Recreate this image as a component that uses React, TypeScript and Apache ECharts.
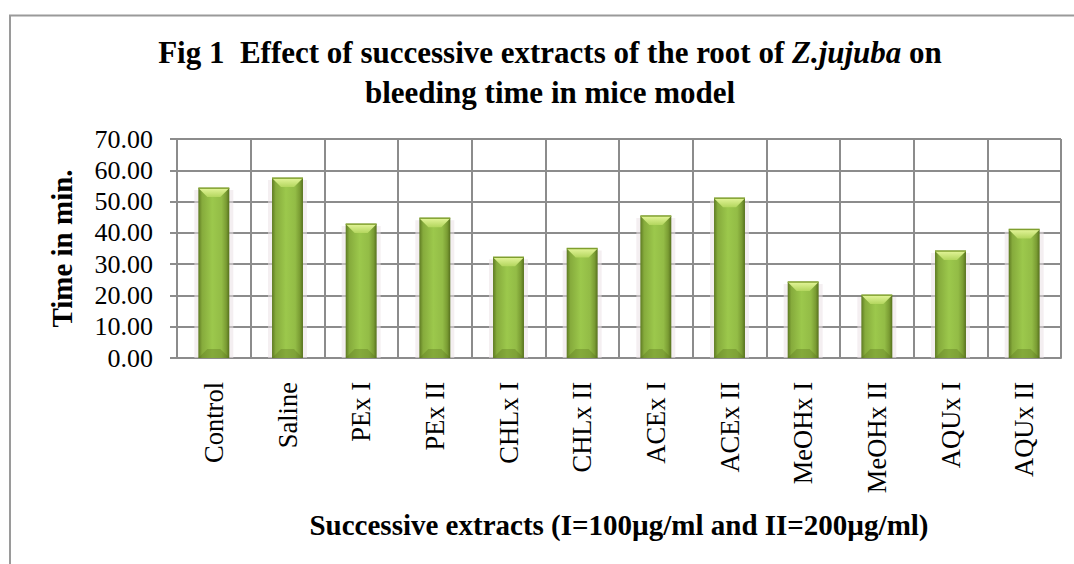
import React, { useEffect, useRef } from "react";
import * as echarts from "echarts";

const categories = ["Control", "Saline", "PEx I", "PEx II", "CHLx I", "CHLx II", "ACEx I", "ACEx II", "MeOHx I", "MeOHx II", "AQUx I", "AQUx II"];
const values = [54.3, 57.5, 42.8, 44.7, 32.2, 35.0, 45.4, 51.1, 24.3, 20.1, 34.2, 41.1];
const yTicks = { min: 0, max: 70, interval: 10 };
const titleLine1 = "Fig 1  Effect of successive extracts of the root of ";
const titleItalic = "Z.jujuba";
const titleLine1End = " on";
const titleLine2 = "bleeding time in mice model";
const yName = "Time in min.";
const xName = "Successive extracts (I=100µg/ml and II=200µg/ml)";

const SERIF = "'Liberation Serif', 'Times New Roman', serif";

export default function App() {
  const ref = useRef<HTMLDivElement>(null);
  useEffect(() => {
    const chart = echarts.init(ref.current!, null, { renderer: "svg" });
    const barGrad = new echarts.graphic.LinearGradient(0, 0, 1, 0, [
      { offset: 0, color: "#5e7a22" },
      { offset: 0.12, color: "#86ab3c" },
      { offset: 0.45, color: "#9cc84c" },
      { offset: 0.75, color: "#93bc46" },
      { offset: 0.9, color: "#7a9c33" },
      { offset: 1, color: "#56701d" },
    ]);
    chart.setOption({
      animation: false,
      graphic: [
        {
          type: "rect",
          shape: { x: 10, y: 15.5, width: 1200, height: 700 },
          style: { fill: "none", stroke: "#9a9a9a", lineWidth: 2 },
          silent: true,
        },
        {
          type: "text",
          x: 550,
          y: 32,
          style: {
            text: `{n|${titleLine1}}{i|${titleItalic}}{n|${titleLine1End}}\n{n|${titleLine2}}`,
            align: "center",
            verticalAlign: "top",
            rich: {
              n: { fontFamily: SERIF, fontWeight: "bold", fontSize: 31, lineHeight: 40, fill: "#000" },
              i: { fontFamily: SERIF, fontWeight: "bold", fontStyle: "italic", fontSize: 31, lineHeight: 40, fill: "#000" },
            },
          },
        },
      ],
      grid: { left: 177, right: 13, top: 139, bottom: 206, containLabel: false },
      xAxis: {
        type: "category",
        data: categories,
        name: xName,
        nameLocation: "middle",
        nameGap: 152,
        nameTextStyle: { fontFamily: SERIF, fontWeight: "bold", fontSize: 29, color: "#000" },
        axisLine: { show: true, lineStyle: { color: "#8c8c8c", width: 2 } },
        axisTick: { show: false },
        splitLine: { show: true, lineStyle: { color: "#8c8c8c", width: 2 } },
        axisLabel: { rotate: 90, interval: 0, margin: 24, fontFamily: SERIF, fontSize: 26.5, color: "#000" },
      },
      yAxis: {
        type: "value",
        min: yTicks.min,
        max: yTicks.max,
        interval: yTicks.interval,
        name: yName,
        nameLocation: "middle",
        nameRotate: 90,
        nameGap: 101,
        nameTextStyle: { fontFamily: SERIF, fontWeight: "bold", fontSize: 29, color: "#000" },
        axisLine: { show: true, lineStyle: { color: "#8c8c8c", width: 2 } },
        axisTick: { show: true, inside: false, length: 7, lineStyle: { color: "#8c8c8c", width: 2 } },
        splitLine: { show: true, lineStyle: { color: "#8c8c8c", width: 2 } },
        axisLabel: { margin: 24, fontFamily: SERIF, fontSize: 26, color: "#000", formatter: (v: number) => v.toFixed(2) },
      },
      series: [
        {
          type: "custom",
          data: values.map((v, i) => [i, v]),
          encode: { x: 0, y: 1 },
          renderItem: (params: any, api: any) => {
            const idx = api.value(0);
            const val = api.value(1);
            const top = api.coord([idx, val]);
            const base = api.coord([idx, 0]);
            const bw = api.size([1, 0])[0] * 0.42;
            const x0 = top[0] - bw / 2;
            const x1 = top[0] + bw / 2;
            const y0 = top[1];
            const y1 = base[1];
            const bev = 9;
            return {
              type: "group",
              children: [
                {
                  type: "rect",
                  shape: { x: x0 - 4, y: y0 + 2, width: bw + 8, height: y1 - y0 - 2 },
                  style: { fill: "rgba(235,225,230,0.55)" },
                  z2: 0,
                },
                {
                  type: "rect",
                  shape: { x: x0, y: y0, width: bw, height: y1 - y0 },
                  style: { fill: barGrad },
                  z2: 1,
                },
                {
                  type: "polygon",
                  shape: { points: [[x0, y0], [x1, y0], [x1 - bev, y0 + bev], [x0 + bev, y0 + bev]] },
                  style: {
                    fill: new echarts.graphic.LinearGradient(0, 0, 0, 1, [
                      { offset: 0, color: "#e4f59a" },
                      { offset: 1, color: "#b3d65e" },
                    ]),
                  },
                  z2: 2,
                },
                {
                  type: "polygon",
                  shape: { points: [[x0, y1], [x1, y1], [x1 - bev, y1 - bev], [x0 + bev, y1 - bev]] },
                  style: { fill: "rgba(90,115,30,0.35)" },
                  z2: 2,
                },
                {
                  type: "line",
                  shape: { x1: x0, y1: y0, x2: x1, y2: y0 },
                  style: { stroke: "#7f9f2e", lineWidth: 1.5 },
                  z2: 3,
                },
              ],
            };
          },
        },
      ],
    });
    return () => chart.dispose();
  }, []);
  return <div ref={ref} style={{ position: "fixed", left: 0, top: 0, width: 1074, height: 564, background: "#fff" }} />;
}
